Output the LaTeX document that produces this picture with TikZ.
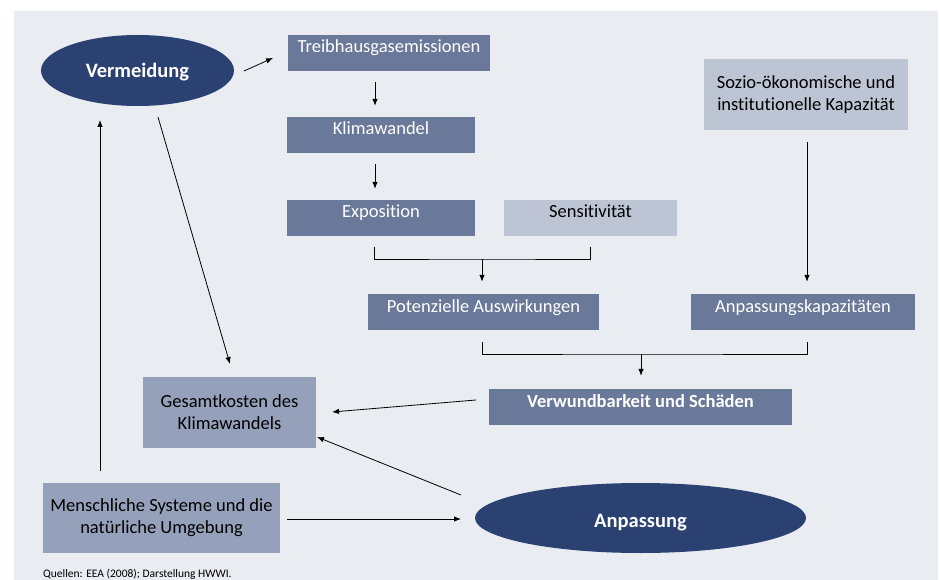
\documentclass[tikz,border=0pt]{standalone}
\usepackage{fontspec}
\setmainfont{Carlito}[Ligatures=NoCommon]
\usetikzlibrary{shapes.geometric,arrows.meta}
\definecolor{bgc}{HTML}{E9ECF1}
\definecolor{navy}{HTML}{2A4171}
\definecolor{darkb}{HTML}{6A7999}
\definecolor{lightb}{HTML}{BDC4D3}
\definecolor{midb}{HTML}{95A1BA}
\tikzset{
  box/.style={rectangle, inner sep=0pt, font=\fontsize{18.5}{22}\selectfont, align=center},
  oneline/.style={text height=13pt, text depth=13pt},
  dbox/.style={box, fill=darkb, text=white, oneline},
  lbox/.style={box, fill=lightb, text=black},
  mbox/.style={box, fill=midb, text=black},
  oval/.style={ellipse, inner sep=0pt, fill=navy, text=white, font=\fontsize{20.5}{24}\selectfont\bfseries},
  arr/.style={-{Latex[length=7pt,width=5.5pt]}, line width=0.8pt, black},
  ln/.style={line width=0.8pt, black},
}
\begin{document}
\begin{tikzpicture}[x=1pt,y=-1pt]
\useasboundingbox (0,0) rectangle (940,580);
\fill[bgc] (14,11) rectangle (938,580);

\node[oval, minimum width=193pt, minimum height=71pt, text height=15pt, text depth=1pt] (verm) at (137.5,70.5) {Vermeidung};
\node[oval, minimum width=331pt, minimum height=70pt, text height=19.5pt, text depth=0pt] (anp) at (640.5,518) {Anpassung};

\node[dbox, minimum width=202pt, minimum height=36pt] (thg) at (389,53) {Treibhausgasemissionen};
\node[dbox, minimum width=188pt, minimum height=36pt] (kw) at (381,135) {Klimawandel};
\node[dbox, minimum width=188pt, minimum height=36pt] (exp) at (381,218) {Exposition};
\node[lbox, oneline, minimum width=173pt, minimum height=36pt] (sens) at (590.5,218) {Sensitivität};
\node[lbox, minimum width=204pt, minimum height=71pt] (sozio) at (806,94.5) {Sozio-ökonomische und\\institutionelle Kapazität};
\node[dbox, minimum width=231pt, minimum height=36pt] (pot) at (483.5,312) {Potenzielle Auswirkungen};
\node[dbox, minimum width=224pt, minimum height=36pt] (akap) at (803,312) {Anpassungskapazitäten};
\node[dbox, minimum width=303pt, minimum height=36pt, font=\fontsize{18.5}{22}\selectfont\bfseries] (verw) at (640.5,407) {Verwundbarkeit und Schäden};
\node[mbox, minimum width=173pt, minimum height=71pt] (ges) at (229.5,412.5) {Gesamtkosten des\\Klimawandels};
\node[mbox, minimum width=237pt, minimum height=70pt] (mensch) at (161.5,518) {Menschliche Systeme und die\\natürliche Umgebung};

\node[anchor=base west, inner sep=0pt, font=\fontsize{11.5}{13}\selectfont] (src) at (43,577) {Quellen: EEA (2008); Darstellung HWWI.};

% connectors
\coordinate (a1s) at (244,71);
\coordinate (a1e) at (273,58);
\draw[arr] (a1s) -- (a1e);
\draw[arr] ([yshift=-11pt]thg.south -| 375,0) -- ([yshift=11pt]kw.north -| 375,0);
\draw[arr] ([yshift=-11pt]kw.south -| 375,0) -- ([yshift=11pt]exp.north -| 375,0);

\coordinate (b1l) at (374,247);
\coordinate (b1r) at (590,247);
\coordinate (b1m) at (482,259);
\draw[ln] (b1l) |- (b1m) -| (b1r);
\draw[arr] (b1m) -- ([yshift=12pt]b1m |- pot.north);

\draw[arr] ([yshift=-12pt]sozio.south -| 807,0) -- ([yshift=12pt]akap.north -| 807,0);

\coordinate (b2l) at (482,342);
\coordinate (b2r) at (807,342);
\coordinate (b2m) at (641,354);
\draw[ln] (b2l) |- (b2m) -| (b2r);
\draw[arr] (b2m) -- ([yshift=13pt]b2m |- verw.north);

\coordinate (m1) at (100,471);
\coordinate (m2) at (100,120);
\draw[arr] (m1) -- (m2);

\coordinate (v1) at (158,117);
\coordinate (v2) at (230,364);
\draw[arr] (v1) -- (v2);

\coordinate (w1) at (476,400);
\coordinate (w2) at (332,412);
\draw[arr] (w1) -- (w2);

\coordinate (p1) at (461,495);
\coordinate (p2) at (317,437);
\draw[arr] (p1) -- (p2);

\coordinate (h1) at (287,519);
\coordinate (h2) at (461,519);
\draw[arr] (h1) -- (h2);
\end{tikzpicture}
\end{document}
